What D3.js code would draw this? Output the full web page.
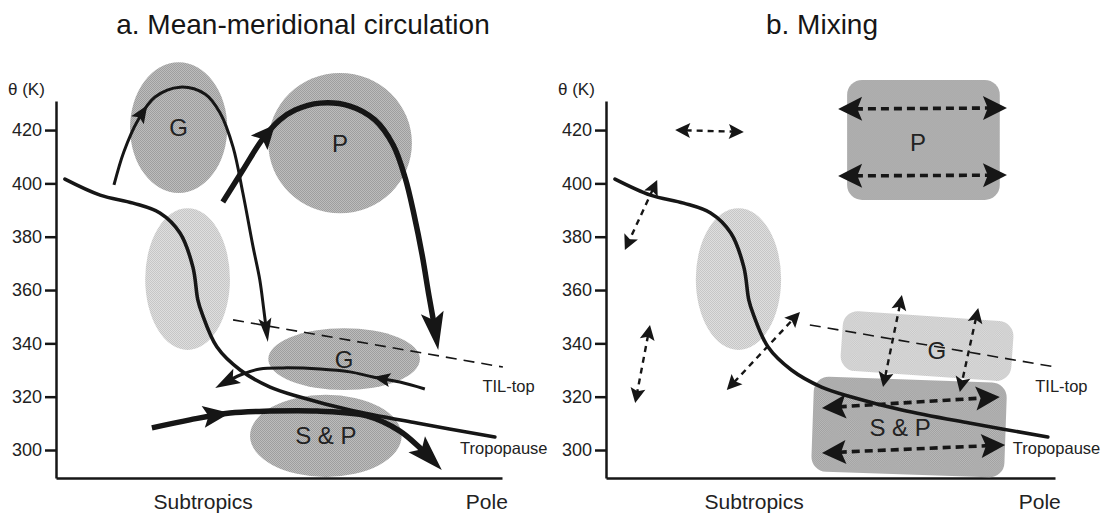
<!DOCTYPE html>
<html>
<head>
<meta charset="utf-8">
<script src="https://cdn.jsdelivr.net/npm/d3@7"></script>
<style>
  body { margin: 0; background: #fff; }
  svg { display: block; font-family: "Liberation Sans", Arial, sans-serif; }
</style>
</head>
<body>
<svg id="chart" width="1117" height="514"></svg>
<script>
// potential temperature axis (K)
var thetaTicks = [300, 320, 340, 360, 380, 400, 420];
var thetaRange = [289.5, 430.9];

// horizontal position: 0 = subtropical edge of the axis, 100 = pole end
var tropopause = [[2.0,401.6],[9.9,395.6],[17.3,392.6],[23.3,388.9],[27.8,381.4],[30.7,368.6],
  [31.8,356.3],[32.7,351.4],[36.1,338.6],[41.3,330.0],[48.0,323.6],[54.7,319.9],[65.9,315.0],
  [80.9,310.1],[98.4,304.9]];
var tilTopA = [[39.7,348.8],[100.2,331.1]];
var tilTopB = [[45.4,346.9],[100.2,331.1]];
var tilZone = {u: 29.5, th: 364.1, du: 9.5, dth: 26.6};

// a. regions (centre and half extents)
var regionsA = [
  {label: "G", u: 27.5, th: 420.9, du: 10.9, dth: 24.5},
  {label: "P", u: 63.7, th: 415.1, du: 16.1, dth: 26.3},
  {label: "G", u: 64.6, th: 334.1, du: 17.0, dth: 11.6},
  {label: "S & P", u: 60.5, th: 305.3, du: 17.0, dth: 15.4}
];

// a. circulation paths and the tip of the arrowhead drawn half way
var gUpper = [[13.0,399.4],[15.2,411.8],[18.4,423.8],[22.2,432.4],[27.8,436.1],[33.4,433.5],
  [36.8,426.4],[39.7,413.6],[41.9,396.4],[44.2,376.1],[45.7,363.8],[46.6,352.5],[47.5,340.5]];
var gUpperTip = [20.4, 429.4];
var pUpper = [[37.4,393.0],[41.9,405.0],[46.2,416.3],[50.2,423.8],[53.6,427.5],[59.2,430.1],
  [65.9,429.0],[71.5,423.8],[75.6,414.4],[78.3,402.0],[80.3,388.1],[82.1,373.1],[83.6,358.1],
  [84.8,346.9],[85.7,337.5]];
var pUpperTip = [49.1, 421.9];
var gLower = [[82.7,322.9],[77.1,325.5],[71.1,327.4],[65.9,329.3],[59.2,330.4],[50.9,330.8],
  [45.7,330.4],[41.9,328.5],[39.0,326.3],[35.7,323.3]];
var gLowerTip = [71.1, 327.4];
var spLower = [[21.5,308.3],[30.0,311.3],[39.0,313.9],[48.0,314.6],[58.5,314.6],[69.7,312.8],
  [77.1,307.1],[81.6,300.8],[86.5,292.5]];
var spLowerTip = [39.0, 313.9];

// b. mixing regions (centre, full size, tilt in degrees)
var regionsB = [
  {u: 70.7, th: 416.3, wu: 34.0, hth: 45.0, tilt: 0, tone: "dark"},
  {u: 71.5, th: 339.0, wu: 38.1, hth: 22.5, tilt: 4, tone: "light"},
  {u: 67.5, th: 308.6, wu: 43.0, hth: 35.6, tilt: 2, tone: "dark"}
];
var labelsB = [
  {label: "P", u: 69.5, th: 415.5},
  {label: "G", u: 73.7, th: 337.5},
  {label: "S & P", u: 65.5, th: 308.6}
];
// b. two-way mixing arrows (end tips)
var mixSmall = [
  [[15.4,420.0],[30.7,419.3]],
  [[11.4,401.3],[4.2,375.0]],
  [[9.8,346.9],[6.5,317.6]],
  [[26.9,322.5],[43.2,351.8]],
  [[65.9,358.1],[61.7,323.6]],
  [[82.9,353.3],[78.8,321.8]]
];
var mixWide = [
  [[51.7,427.9],[89.3,428.3]],
  [[51.7,402.8],[89.3,403.1]],
  [[48.1,315.8],[87.7,319.9]],
  [[48.1,298.9],[88.9,301.9]]
];

var ink = "#161616";
var svg = d3.select("#chart");
var defs = svg.append("defs");

function stipple(id, base, dot) {
  var p = defs.append("pattern").attr("id", id)
    .attr("width", 2).attr("height", 2).attr("patternUnits", "userSpaceOnUse");
  p.append("rect").attr("width", 2).attr("height", 2).attr("fill", base);
  p.append("rect").attr("width", 1).attr("height", 1).attr("fill", dot);
  p.append("rect").attr("x", 1).attr("y", 1).attr("width", 1).attr("height", 1).attr("fill", dot);
}
stipple("dark", "#bcbcbc", "#9e9e9e");
stipple("light", "#dedede", "#c6c6c6");

var yTop = 101, yBottom = 478;
var y = d3.scaleLinear().domain(thetaRange).range([yBottom, yTop]);

var panels = [
  {left: 56, right: 502, title: "a. Mean-meridional circulation", titleX: 303},
  {left: 606, right: 1055, title: "b. Mixing", titleX: 822}
];

function headShape(tip, d, L, W) {
  var nx = -d[1], ny = d[0];
  var bx = tip[0] - d[0] * L, by = tip[1] - d[1] * L;
  var kx = tip[0] - d[0] * L * 0.8, ky = tip[1] - d[1] * L * 0.8;
  return "M" + tip[0] + "," + tip[1] +
    "L" + (bx + nx * W) + "," + (by + ny * W) +
    "L" + kx + "," + ky +
    "L" + (bx - nx * W) + "," + (by - ny * W) + "Z";
}

function headAt(node, len, size) {
  var p = node.getPointAtLength(len);
  var q = node.getPointAtLength(Math.max(0, len - size[0] * 0.6));
  var dx = p.x - q.x, dy = p.y - q.y, n = Math.hypot(dx, dy) || 1;
  return headShape([p.x, p.y], [dx / n, dy / n], size[0], size[1]);
}

function nearestLength(node, total, pt) {
  var best = 0, bestD = Infinity;
  for (var l = 0; l <= total; l += 0.5) {
    var p = node.getPointAtLength(l);
    var d = (p.x - pt[0]) * (p.x - pt[0]) + (p.y - pt[1]) * (p.y - pt[1]);
    if (d < bestD) { bestD = d; best = l; }
  }
  return best;
}

function flowArrow(g, x, pts, midTip, width, midSize, endSize) {
  var line = d3.line().x(function (d) { return x(d[0]); }).y(function (d) { return y(d[1]); })
    .curve(d3.curveCatmullRom.alpha(0.5));
  var path = g.append("path").attr("d", line(pts))
    .attr("fill", "none").attr("stroke", ink).attr("stroke-width", width);
  var node = path.node(), total = node.getTotalLength();
  path.attr("stroke-dasharray", (total - endSize[0] * 0.6) + " " + total);
  var tipLen = nearestLength(node, total, [x(midTip[0]), y(midTip[1])]);
  g.append("path").attr("d", headAt(node, tipLen, midSize)).attr("fill", ink);
  g.append("path").attr("d", headAt(node, total, endSize)).attr("fill", ink);
}

function mixArrow(g, x, pair, width, size, dash) {
  var a = [x(pair[0][0]), y(pair[0][1])], b = [x(pair[1][0]), y(pair[1][1])];
  var dx = b[0] - a[0], dy = b[1] - a[1], n = Math.hypot(dx, dy);
  dx /= n; dy /= n;
  var cut = size[0] * 0.7;
  g.append("line")
    .attr("x1", a[0] + dx * cut).attr("y1", a[1] + dy * cut)
    .attr("x2", b[0] - dx * cut).attr("y2", b[1] - dy * cut)
    .attr("stroke", ink).attr("stroke-width", width).attr("stroke-dasharray", dash);
  g.append("path").attr("d", headShape(b, [dx, dy], size[0], size[1])).attr("fill", ink);
  g.append("path").attr("d", headShape(a, [-dx, -dy], size[0], size[1])).attr("fill", ink);
}

function drawFrame(p) {
  var x = d3.scaleLinear().domain([0, 100]).range([p.left, p.right]);
  var g = svg.append("g");

  svg.append("text").attr("x", p.titleX).attr("y", 34).attr("text-anchor", "middle")
    .attr("font-size", 28).attr("fill", ink).text(p.title);

  var ax = g.append("g").attr("transform", "translate(" + p.left + ",0)")
    .call(d3.axisLeft(y).tickValues(thetaTicks).tickSize(11).tickSizeOuter(0).tickPadding(3));
  ax.attr("font-size", 18).attr("font-family", null);
  ax.selectAll("path, line").attr("stroke", ink).attr("stroke-width", 2.5);
  ax.selectAll("text").attr("fill", "#222");

  var bx = g.append("g").attr("transform", "translate(0," + yBottom + ")")
    .call(d3.axisBottom(x).tickValues([]).tickSizeOuter(0));
  bx.select(".domain").attr("stroke", ink).attr("stroke-width", 2.5);

  g.append("text").attr("x", p.left - 48).attr("y", 95).attr("font-size", 17)
    .attr("fill", "#222").text("θ (K)");
  g.append("text").attr("x", x(33)).attr("y", 509).attr("text-anchor", "middle")
    .attr("font-size", 21).attr("fill", "#222").text("Subtropics");
  g.append("text").attr("x", x(96.6)).attr("y", 509).attr("text-anchor", "middle")
    .attr("font-size", 21).attr("fill", "#222").text("Pole");

  return {g: g, x: x};
}

function zoneEllipse(g, x, r, fill) {
  g.append("ellipse")
    .attr("cx", x(r.u)).attr("cy", y(r.th))
    .attr("rx", x(r.u + r.du) - x(r.u)).attr("ry", y(r.th - r.dth) - y(r.th))
    .attr("fill", fill);
}

function tropoLines(g, x, til) {
  var line = d3.line().x(function (d) { return x(d[0]); }).y(function (d) { return y(d[1]); });
  g.append("path").attr("d", line(til)).attr("fill", "none")
    .attr("stroke", ink).attr("stroke-width", 1.6).attr("stroke-dasharray", "11,7");
  g.append("path").attr("d", line.curve(d3.curveCatmullRom.alpha(0.5))(tropopause))
    .attr("fill", "none").attr("stroke", ink).attr("stroke-width", 3.6).attr("stroke-linecap", "round");
  g.append("text").attr("x", x(95.6)).attr("y", y(331.1) + 25).attr("font-size", 16.5)
    .attr("fill", "#222").text("TIL-top");
  g.append("text").attr("x", x(90.6)).attr("y", y(304.9) + 17).attr("font-size", 16.5)
    .attr("fill", "#222").text("Tropopause");
}

function regionLabel(g, x, text, u, th) {
  g.append("text").attr("x", x(u)).attr("y", y(th) + 8.5).attr("text-anchor", "middle")
    .attr("font-size", 24).attr("fill", "#222").text(text);
}

// ---- panel a ----
var a = drawFrame(panels[0]);
zoneEllipse(a.g, a.x, tilZone, "url(#light)");
regionsA.forEach(function (r) { zoneEllipse(a.g, a.x, r, "url(#dark)"); });
regionsA.forEach(function (r) { regionLabel(a.g, a.x, r.label, r.u, r.th); });
tropoLines(a.g, a.x, tilTopA);
flowArrow(a.g, a.x, gUpper, gUpperTip, 3, [18, 7.5], [24, 6.5]);
flowArrow(a.g, a.x, pUpper, pUpperTip, 5.5, [24, 11], [38, 11.5]);
flowArrow(a.g, a.x, gLower, gLowerTip, 3, [17, 7], [25, 8]);
flowArrow(a.g, a.x, spLower, spLowerTip, 5.5, [27, 11], [36, 11.5]);

// ---- panel b ----
var b = drawFrame(panels[1]);
zoneEllipse(b.g, b.x, tilZone, "url(#light)");
regionsB.forEach(function (r) {
  var w = b.x(r.u + r.wu / 2) - b.x(r.u - r.wu / 2);
  var h = y(r.th - r.hth / 2) - y(r.th + r.hth / 2);
  b.g.append("rect")
    .attr("transform", "translate(" + b.x(r.u) + "," + y(r.th) + ") rotate(" + r.tilt + ")")
    .attr("x", -w / 2).attr("y", -h / 2).attr("width", w).attr("height", h)
    .attr("rx", 15).attr("ry", 15)
    .attr("fill", r.tone === "light" ? "url(#light)" : "url(#dark)");
});
labelsB.forEach(function (l) { regionLabel(b.g, b.x, l.label, l.u, l.th); });
tropoLines(b.g, b.x, tilTopB);
mixSmall.forEach(function (m) { mixArrow(b.g, b.x, m, 2.4, [15, 7.5], "6,5"); });
mixWide.forEach(function (m) { mixArrow(b.g, b.x, m, 3.6, [24, 12], "8,5"); });
</script>
</body>
</html>
